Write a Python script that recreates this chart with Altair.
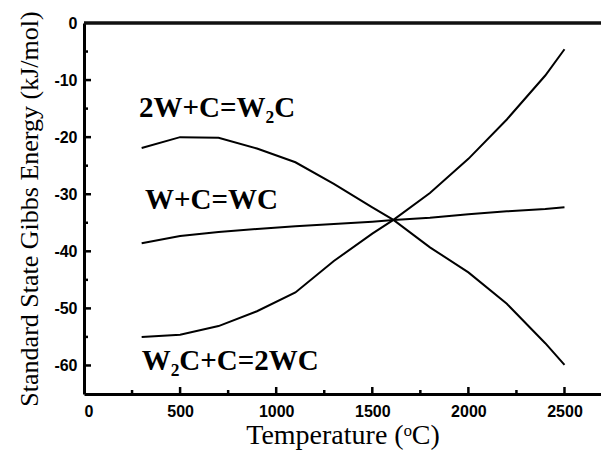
import altair as alt
import pandas as pd

# Temperatures (°C) at which curves are read
temps = [300, 500, 700, 900, 1100, 1300, 1500, 1610, 1800, 2000, 2200, 2400, 2500]
# 2W+C=W2C
e_w2c = [-21.9, -20.0, -20.1, -22.0, -24.4, -28.2, -32.3, -34.5, -39.3, -43.7, -49.2, -56.1, -59.9]
# W+C=WC
e_wc = [-38.6, -37.3, -36.6, -36.1, -35.6, -35.2, -34.8, -34.5, -34.1, -33.5, -33.0, -32.6, -32.3]
# W2C+C=2WC
e_2wc = [-55.0, -54.6, -53.1, -50.5, -47.2, -41.7, -36.9, -34.5, -29.8, -23.8, -16.9, -9.2, -4.6]

series_names = ["2W+C=W2C", "W+C=WC", "W2C+C=2WC"]

# annotation texts and anchor points (data coordinates)
ann_text = ["2W+C=W\u2082C", "W+C=WC", "W\u2082C+C=2WC"]
ann_t = [286, 317, 300]
ann_e = [-16.5, -32.5, -60.8]

x_major = [500, 1000, 1500, 2000, 2500]
x_minor = [250, 750, 1250, 1750, 2250]
y_major = [-10, -20, -30, -40, -50, -60]
y_minor = [-5, -15, -25, -35, -45, -55]
x_labels = [0, 500, 1000, 1500, 2000, 2500]
y_labels = [0, -10, -20, -30, -40, -50, -60]
frame_top = [0]

W, H = 517, 371

rows = []
for name, vals in zip(series_names, [e_w2c, e_wc, e_2wc]):
    for t, e in zip(temps, vals):
        rows.append({"series": name, "T": t, "E": e})
df = pd.DataFrame(rows)

xs = alt.Scale(domain=[0, 2690], nice=False, zero=False)
ys = alt.Scale(domain=[-65, 0], nice=False, zero=False)
x_axis = alt.Axis(values=x_labels, title="Temperature (\u1d52C)", labelExpr="'' + datum.value",
                  domainColor="#000000", domainWidth=3, ticks=False, grid=False,
                  labelPadding=9, titleFontSize=28, titlePadding=2, titleColor="#000000")
y_axis = alt.Axis(values=y_labels, title="Standard State Gibbs Energy (kJ/mol)",
                  labelExpr="'' + datum.value",
                  domainColor="#000000", domainWidth=3, ticks=False, grid=False,
                  labelPadding=7, titleFontSize=26, titlePadding=11, titleColor="#000000")

lines = alt.Chart(df).mark_line(color="black", strokeWidth=2).encode(
    x=alt.X("T:Q", scale=xs, axis=x_axis),
    y=alt.Y("E:Q", scale=ys, axis=y_axis),
    detail="series:N",
)

def tick_layer(vals, orient, length):
    d = pd.DataFrame({"T": vals, "E": vals})
    if orient == "x":
        return alt.Chart(d).mark_rule(color="black", strokeWidth=2.5).encode(
            x=alt.X("T:Q", scale=xs, axis=x_axis),
            y=alt.value(H), y2=alt.value(H - length))
    return alt.Chart(d).mark_rule(color="black", strokeWidth=2.5).encode(
        y=alt.Y("E:Q", scale=ys, axis=y_axis),
        x=alt.value(0), x2=alt.value(length))

top_border = alt.Chart(pd.DataFrame({"E": frame_top})).mark_rule(
    color="#111111", strokeWidth=3.5).encode(
    y=alt.Y("E:Q", scale=ys, axis=y_axis), x=alt.value(0), x2=alt.value(W))

ann = alt.Chart(pd.DataFrame({"T": ann_t, "E": ann_e, "txt": ann_text})).mark_text(
    align="left", baseline="alphabetic", font="Liberation Serif", fontWeight="bold",
    fontSize=29, color="black").encode(
    x=alt.X("T:Q", scale=xs, axis=x_axis),
    y=alt.Y("E:Q", scale=ys, axis=y_axis),
    text="txt:N")

chart = alt.layer(
    lines,
    tick_layer(x_major, "x", 7), tick_layer(x_minor, "x", 4),
    tick_layer(y_major, "y", 7), tick_layer(y_minor, "y", 4),
    ann, top_border,
).properties(
    width=W, height=H,
    autosize=alt.AutoSizeParams(type="none"),
    padding={"left": 76, "top": 15, "right": 0, "bottom": 56},
).configure_view(stroke=None).configure_axis(
    domainColor="black", domainWidth=3, ticks=False, tickSize=0, grid=False,
    labelFont="Liberation Sans", labelFontWeight="bold", labelFontSize=16, labelColor="black",
    titleFont="Liberation Serif", titleFontWeight="normal", titleColor="black",
)

chart.save("out.html", embed_options={"renderer": "svg", "actions": False})
